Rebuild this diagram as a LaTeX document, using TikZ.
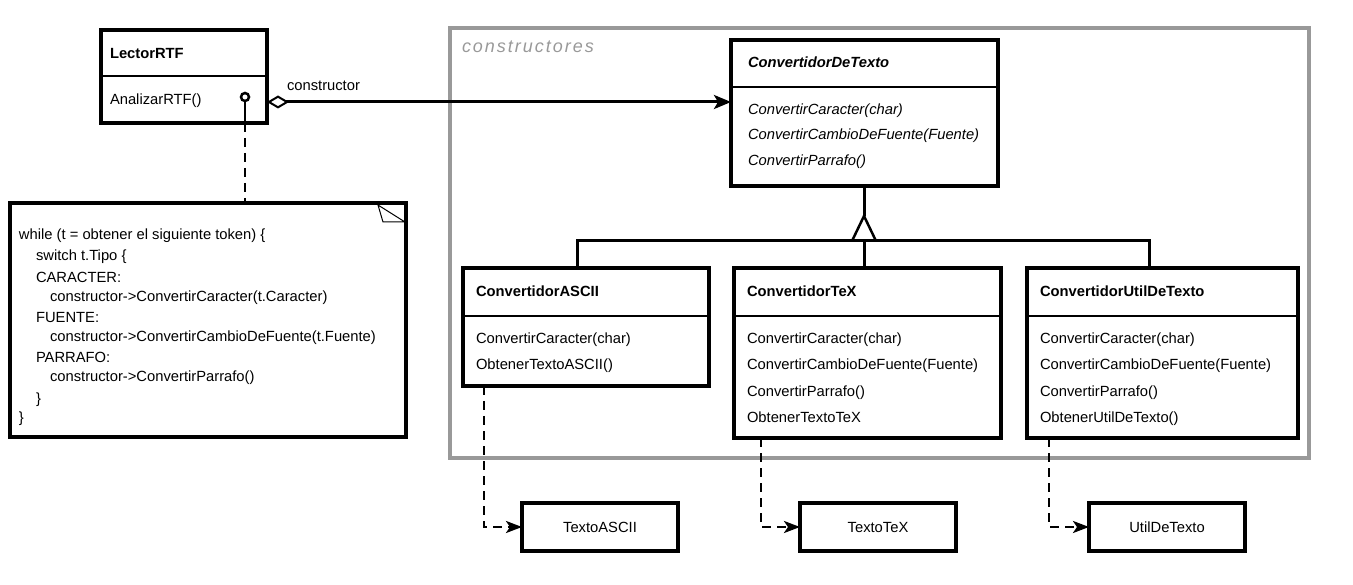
\documentclass[tikz,border=0pt]{standalone}
\usepackage{fontspec}
\setmainfont{Liberation Sans}
\usetikzlibrary{arrows.meta}
\definecolor{frameg}{RGB}{153,153,153}
\begin{document}
\begin{tikzpicture}[x=1pt,y=-1pt,
  every node/.style={font=\fontsize{14.75}{18}\selectfont},
  umlbox/.style={draw, line width=3.5pt, inner sep=0pt, outer sep=0pt, anchor=north west, fill=white},
  txt/.style={anchor=base west, inner sep=0pt, outer sep=0pt},
  ctxt/.style={anchor=center, inner sep=0pt, outer sep=0pt},
  conn/.style={line width=3pt},
  divider/.style={line width=2pt},
  dep/.style={line width=2.5pt, dash pattern=on 9pt off 6pt, -{Stealth[length=16pt,width=12pt,inset=4pt]}},
]
\useasboundingbox (0,0) rectangle (1353,585);

% frame
\node[draw=frameg, line width=3.5pt, inner sep=0pt, outer sep=0pt, anchor=north west,
      minimum width=859pt, minimum height=430pt] (frame) at (450,28) {};
\node[txt, text=frameg, font=\fontsize{18}{20}\selectfont\itshape\addfontfeatures{LetterSpace=11}] (framelbl) at (462,53) {constructores};

% LectorRTF
\node[umlbox, minimum width=166pt, minimum height=93pt] (lector) at (101,30) {};
\draw[divider] (lector.west |- 0,76) -- (lector.east |- 0,76);
\node[txt] (lectorT) at (110,59) {\bfseries LectorRTF};
\node[txt] (lectorM) at (110,105) {AnalizarRTF()};
\coordinate (lol) at (245,97);
\draw[line width=2.5pt] (lol) circle (4pt);
\draw[line width=2.5pt] (245,101) -- (lector.south -| lol);

% ConvertidorDeTexto
\node[umlbox, minimum width=267pt, minimum height=146pt] (cdt) at (731,40) {};
\draw[divider] (cdt.west |- 0,87) -- (cdt.east |- 0,87);
\node[txt] (cdtT) at (748,68) {\bfseries\itshape ConvertidorDeTexto};
\node[txt] (cdtM1) at (748,115) {\itshape ConvertirCaracter(char)};
\node[txt] (cdtM2) at (748,140) {\itshape ConvertirCambioDeFuente(Fuente)};
\node[txt] (cdtM3) at (748,166) {\itshape ConvertirParrafo()};

% association
\draw[conn, {Diamond[open,length=22pt,width=13pt,line width=2pt]}-{Stealth[length=17pt,width=14pt,inset=4pt]}]
  (lector.east |- 0,102) -- (cdt.west |- 0,102);
\node[txt] (assocL) at (287,91) {constructor};

% subclasses
\node[umlbox, minimum width=246pt, minimum height=118pt] (ascii) at (463,268) {};
\draw[divider] (ascii.west |- 0,316) -- (ascii.east |- 0,316);
\node[txt] (asciiT) at (476,297) {\bfseries ConvertidorASCII};
\node[txt] (asciiM1) at (476,344) {ConvertirCaracter(char)};
\node[txt] (asciiM2) at (476,370) {ObtenerTextoASCII()};

\node[umlbox, minimum width=267pt, minimum height=170pt] (tex) at (734,268) {};
\draw[divider] (tex.west |- 0,316) -- (tex.east |- 0,316);
\node[txt] (texT) at (747,297) {\bfseries ConvertidorTeX};
\node[txt] (texM1) at (747,344) {ConvertirCaracter(char)};
\node[txt] (texM2) at (747,370) {ConvertirCambioDeFuente(Fuente)};
\node[txt] (texM3) at (747,396) {ConvertirParrafo()};
\node[txt] (texM4) at (747,422) {ObtenerTextoTeX};

\node[umlbox, minimum width=271pt, minimum height=170pt] (util) at (1027,268) {};
\draw[divider] (util.west |- 0,316) -- (util.east |- 0,316);
\node[txt] (utilT) at (1040,297) {\bfseries ConvertidorUtilDeTexto};
\node[txt] (utilM1) at (1040,344) {ConvertirCaracter(char)};
\node[txt] (utilM2) at (1040,370) {ConvertirCambioDeFuente(Fuente)};
\node[txt] (utilM3) at (1040,396) {ConvertirParrafo()};
\node[txt] (utilM4) at (1040,422) {ObtenerUtilDeTexto()};

% inheritance
\coordinate (apex) at (864,216);
\coordinate (busL) at (577,241);
\coordinate (busR) at (1149,241);
\draw[conn] (cdt.south -| apex) -- (apex);
\draw[line width=2.5pt, line join=miter] (852,241) -- (apex) -- (876,241);
\draw[conn] (ascii.north -| busL) -- (busL) -- (busR) -- (util.north -| busR);
\draw[conn] (apex |- busL) -- (tex.north -| apex);

% products
\node[umlbox, minimum width=156pt, minimum height=48pt] (tascii) at (522,503) {};
\node[ctxt] (tasciiL) at (tascii.center) {TextoASCII};
\node[umlbox, minimum width=156pt, minimum height=48pt] (ttex) at (800,503) {};
\node[ctxt] (ttexL) at (ttex.center) {TextoTeX};
\node[umlbox, minimum width=156pt, minimum height=48pt] (tutil) at (1089,503) {};
\node[ctxt] (tutilL) at (tutil.center) {UtilDeTexto};

\coordinate (d1) at (484,0);
\coordinate (d2) at (761,0);
\coordinate (d3) at (1049,0);
\draw[dep] (ascii.south -| d1) |- (tascii.west);
\draw[dep] (tex.south -| d2) |- (ttex.west);
\draw[dep] (util.south -| d3) |- (tutil.west);

% note
\node[umlbox, minimum width=396pt, minimum height=234pt] (note) at (10,203) {};
\draw[line width=1pt] (378,205) .. controls (381,213) .. (383,222) -- (405,222) -- cycle;
\draw[line width=2.5pt, dash pattern=on 9pt off 6pt] (lector.south -| lol) -- (note.north -| lol);
\node[txt] (n1) at (19,240) {while (t = obtener el siguiente token) \{};
\node[txt] (n2) at (36,261) {switch t.Tipo \{};
\node[txt] (n3) at (36,283) {CARACTER:};
\node[txt] (n4) at (50,302) {constructor->ConvertirCaracter(t.Caracter)};
\node[txt] (n5) at (36,323) {FUENTE:};
\node[txt] (n6) at (50,342) {constructor->ConvertirCambioDeFuente(t.Fuente)};
\node[txt] (n7) at (36,363) {PARRAFO:};
\node[txt] (n8) at (50,382) {constructor->ConvertirParrafo()};
\node[txt] (n9) at (36,403) {\}};
\node[txt] (n10) at (19,423) {\}};
\end{tikzpicture}
\end{document}
